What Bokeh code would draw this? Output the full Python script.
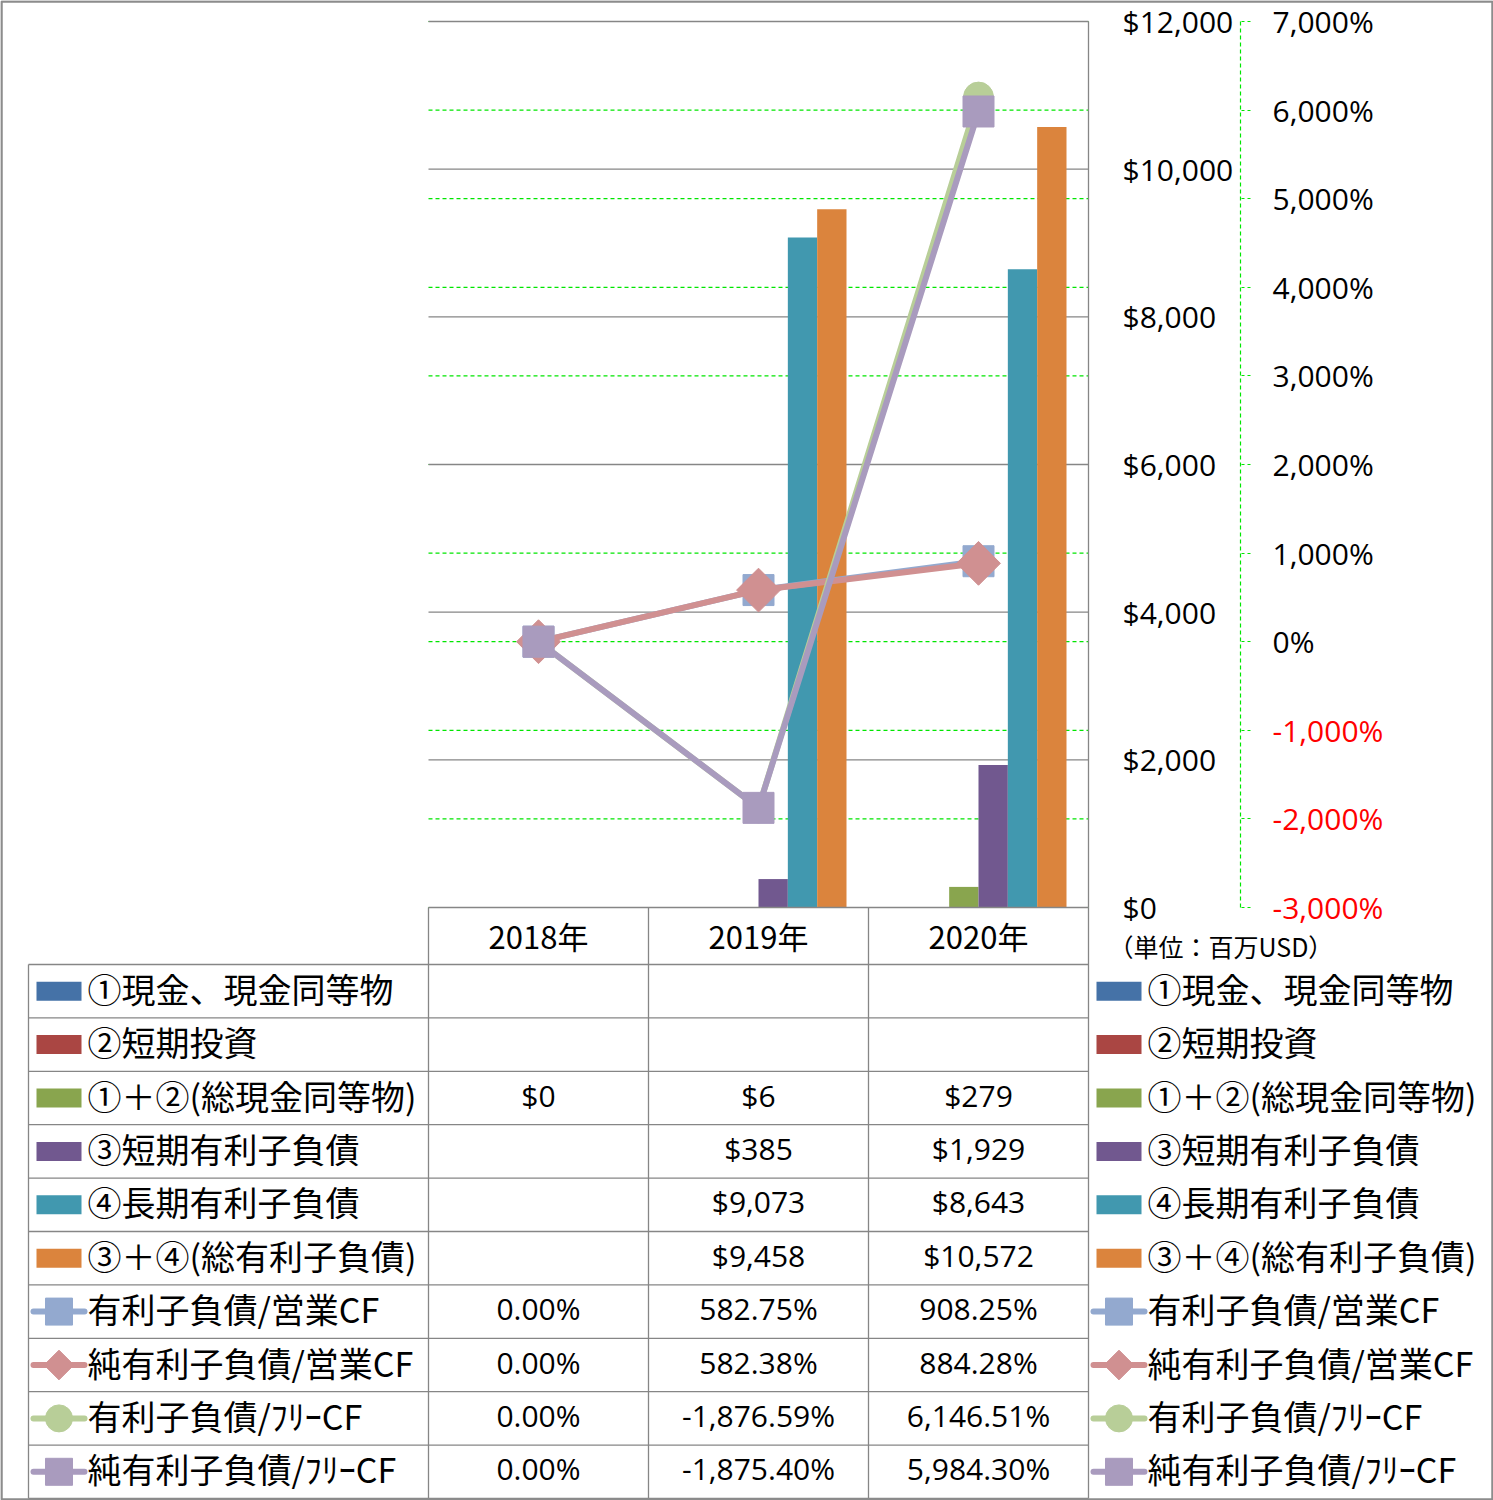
import numpy as np
from bokeh.plotting import figure
from bokeh.models import (Range1d, LinearAxis, FixedTicker, NumeralTickFormatter,
                          CustomJSTickFormatter)
from bokeh.core.properties import value
from bokeh.embed import file_html
from bokeh.resources import INLINE

# ---------------- data ----------------
categories = ["2018年", "2019年", "2020年"]

bar_names = ["①現金、現金同等物", "②短期投資", "①＋②(総現金同等物)",
             "③短期有利子負債", "④長期有利子負債", "③＋④(総有利子負債)"]
cash = [None, None, None]
short_inv = [None, None, None]
total_cash = [0, 6, 279]
short_debt = [None, 385, 1929]
long_debt = [None, 9073, 8643]
total_debt = [None, 9458, 10572]
bar_series = [cash, short_inv, total_cash, short_debt, long_debt, total_debt]

line_names = ["有利子負債/営業CF", "純有利子負債/営業CF",
              "有利子負債/ﾌﾘｰCF", "純有利子負債/ﾌﾘｰCF"]
debt_ocf = [0.00, 582.75, 908.25]
net_debt_ocf = [0.00, 582.38, 884.28]
debt_fcf = [0.00, -1876.59, 6146.51]
net_debt_fcf = [0.00, -1875.40, 5984.30]
line_series = [debt_ocf, net_debt_ocf, debt_fcf, net_debt_fcf]

usd_ticks = [0, 2000, 4000, 6000, 8000, 10000, 12000]
pct_ticks = [-3000, -2000, -1000, 0, 1000, 2000, 3000, 4000, 5000, 6000, 7000]
unit_label = "（単位：百万USD）"

# ---------------- style ----------------
bar_colors = ["#4572A7", "#AA4643", "#89A54E", "#71588F", "#4198AF", "#DB843D"]
line_colors = ["#93A9CF", "#D09091", "#B8CE98", "#A99BBE"]
line_markers = ["square", "diamond", "circle", "square"]
GRID = "#868686"
GREEN = "#00E600"
JP = value("Noto Sans CJK JP")
NUM = value("Open Sans")

W, H = 1493, 1500
PL, PR, PT, PB = 428, 1088, 21, 907
ncat = len(categories)
cat_px = (PR - PL) / ncat
usd_lo, usd_hi = usd_ticks[0], usd_ticks[-1]
pct_lo, pct_hi = pct_ticks[0], pct_ticks[-1]
u_pp = (usd_hi - usd_lo) / (PB - PT)
p_pp = (pct_hi - pct_lo) / (PB - PT)

p = figure(width=W, height=H,
           x_range=Range1d(-PL / cat_px, (W - PL) / cat_px),
           y_range=Range1d(usd_lo - (H - PB) * u_pp, usd_hi + PT * u_pp),
           x_axis_type=None, y_axis_type=None,
           output_backend="svg", toolbar_location=None, min_border=0,
           outline_line_color=None, background_fill_color="white",
           border_fill_color="white")
p.extra_y_ranges = {"pct": Range1d(pct_lo - (H - PB) * p_pp, pct_hi + PT * p_pp),
                    "px": Range1d(H, 0)}
p.extra_x_ranges = {"px": Range1d(0, W)}

# gridlines
p.segment(x0=0, x1=ncat, y0=pct_ticks, y1=pct_ticks, y_range_name="pct",
          line_color=GREEN, line_width=1.2, line_dash="4 3")
p.segment(x0=0, x1=ncat, y0=usd_ticks[1:], y1=usd_ticks[1:],
          line_color=GRID, line_width=1.3)

# bars
nb = len(bar_series)
bw = 0.8 / nb
centers = np.arange(ncat) + 0.5
for i, (vals, col) in enumerate(zip(bar_series, bar_colors)):
    xs = [c + (i - (nb - 1) / 2) * bw for c, v in zip(centers, vals) if v is not None]
    ys = [v for v in vals if v is not None]
    if xs:
        p.vbar(x=xs, top=ys, bottom=0, width=bw, fill_color=col, line_color=None)

# lines
sizes = {"square": 31, "diamond": 31, "circle": 30}
for vals, col, mk in zip(line_series, line_colors, line_markers):
    p.line(x=centers, y=vals, y_range_name="pct", line_color=col, line_width=6,
           line_join="round")
    ang = np.pi / 4 if mk == "diamond" else 0
    m = "square" if mk == "diamond" else mk
    p.scatter(x=centers, y=vals, y_range_name="pct", marker=m, angle=ang,
              size=sizes[mk], fill_color=col, line_color=col)

# axes
usd_axis = LinearAxis(fixed_location=ncat, ticker=FixedTicker(ticks=usd_ticks),
                      formatter=NumeralTickFormatter(format="$0,0"),
                      axis_line_color=None, major_tick_line_color=None,
                      minor_tick_line_color=None, major_tick_out=0, major_tick_in=0,
                      major_label_standoff=34, major_label_text_font="Open Sans",
                      major_label_text_font_size="30px", major_label_text_color="black")
p.add_layout(usd_axis, "right")

pct_fmt = CustomJSTickFormatter(code="return Math.round(tick).toLocaleString('en-US') + '%';")
sec_loc = (1240 - PL) / cat_px
for ticks, color, show_line in [([t for t in pct_ticks if t >= 0], "black", True),
                                ([t for t in pct_ticks if t < 0], "#FF0000", False)]:
    ax = LinearAxis(y_range_name="pct", fixed_location=sec_loc, bounds=(pct_lo, pct_hi),
                    ticker=FixedTicker(ticks=ticks), formatter=pct_fmt,
                    axis_line_color=GREEN if show_line else None, axis_line_dash="4 3",
                    axis_line_width=1.2,
                    major_tick_out=10, major_tick_in=0, major_tick_line_color=GREEN,
                    major_tick_line_dash="3 3", major_tick_line_width=1.2,
                    minor_tick_line_color=None, major_label_standoff=22,
                    major_label_text_font="Open Sans", major_label_text_font_size="30px",
                    major_label_text_color=color)
    p.add_layout(ax, "right")

x_fmt = CustomJSTickFormatter(args=dict(labels=categories),
                              code="return labels[Math.floor(tick)];")
xax = LinearAxis(fixed_location=usd_lo, bounds=(0, ncat),
                 ticker=FixedTicker(ticks=list(centers)), formatter=x_fmt,
                 axis_line_color=GRID, axis_line_width=1.3,
                 major_tick_line_color=None, major_tick_out=0, major_tick_in=0,
                 minor_tick_line_color=None, major_label_standoff=5,
                 major_label_text_font="Noto Sans CJK JP",
                 major_label_text_font_size="31px", major_label_text_color="black")
p.add_layout(xax, "below")

# unit label
p.text(x=[1108], y=[945], text=[unit_label], x_range_name="px", y_range_name="px",
       text_font=JP, text_font_size="25px", text_baseline="middle", text_align="left",
       text_color="black")

# ---------------- data table ----------------
TT, TB = 964, 1498
nrows = len(bar_names) + len(line_names)
rh = (TB - TT) / nrows
row_y = [TT + rh * (k + 0.5) for k in range(nrows)]
txt_y = [y - 3 for y in row_y]
TL = 28

# horizontal table lines
hy = [TT + rh * k for k in range(nrows + 1)]
p.segment(x0=TL, x1=PR, y0=hy, y1=hy, x_range_name="px", y_range_name="px",
          line_color=GRID, line_width=1.3)
# vertical table lines (category borders)
edges = list(range(ncat + 1))
p.segment(x0=edges, x1=edges, y0=[PB] * len(edges), y1=[TB] * len(edges),
          y_range_name="px", line_color=GRID, line_width=1.3)
p.segment(x0=[ncat], x1=[ncat], y0=[PT], y1=[PB], y_range_name="px",
          line_color=GRID, line_width=1.3)
p.segment(x0=[TL], x1=[TL], y0=[TT], y1=[TB], x_range_name="px", y_range_name="px",
          line_color=GRID, line_width=1.3)

# table values
def fmt_usd(v):
    return "" if v is None else "$" + f"{v:,.0f}"

def fmt_pct(v):
    return "" if v is None else f"{v:,.2f}%"

cell_x, cell_y, cell_t = [], [], []
for r, vals in enumerate(bar_series):
    for c, v in enumerate(vals):
        cell_x.append(centers[c]); cell_y.append(txt_y[r]); cell_t.append(fmt_usd(v))
for r, vals in enumerate(line_series):
    for c, v in enumerate(vals):
        cell_x.append(centers[c]); cell_y.append(txt_y[len(bar_series) + r])
        cell_t.append(fmt_pct(v))
p.text(x=cell_x, y=cell_y, text=cell_t, y_range_name="px", text_font=NUM,
       text_font_size="30px", text_align="center", text_baseline="middle",
       text_color="black")

# legends (left inside table, right beside table)
for key_x in [36, 1096]:
    sw = 45
    bys = row_y[:nb]
    p.quad(left=key_x, right=key_x + sw, top=[y - 9.5 for y in bys],
           bottom=[y + 9.5 for y in bys], x_range_name="px", y_range_name="px",
           fill_color=bar_colors, line_color=None)
    lys = row_y[nb:]
    for y, col, mk in zip(lys, line_colors, line_markers):
        p.segment(x0=[key_x - 3], x1=[key_x + sw + 3], y0=[y], y1=[y],
                  x_range_name="px", y_range_name="px", line_color=col,
                  line_width=6, line_cap="round")
        ang = np.pi / 4 if mk == "diamond" else 0
        m = "square" if mk == "diamond" else mk
        s = {"square": 27, "diamond": 21, "circle": 27}[mk]
        p.scatter(x=[key_x + sw / 2], y=[y], x_range_name="px", y_range_name="px",
                  marker=m, angle=ang, size=s, fill_color=col, line_color=col)
    p.text(x=[key_x + sw + 6] * nrows, y=txt_y, text=bar_names + line_names,
           x_range_name="px", y_range_name="px", text_font=JP, text_font_size="34px",
           text_align="left", text_baseline="middle", text_color="black")

# outer border
p.quad(left=[1], right=[W - 1], top=[1], bottom=[H - 1], x_range_name="px",
       y_range_name="px", fill_color=None, line_color="#8C8C8C", line_width=2.5)

open("out.html", "w").write(file_html(p, INLINE))
